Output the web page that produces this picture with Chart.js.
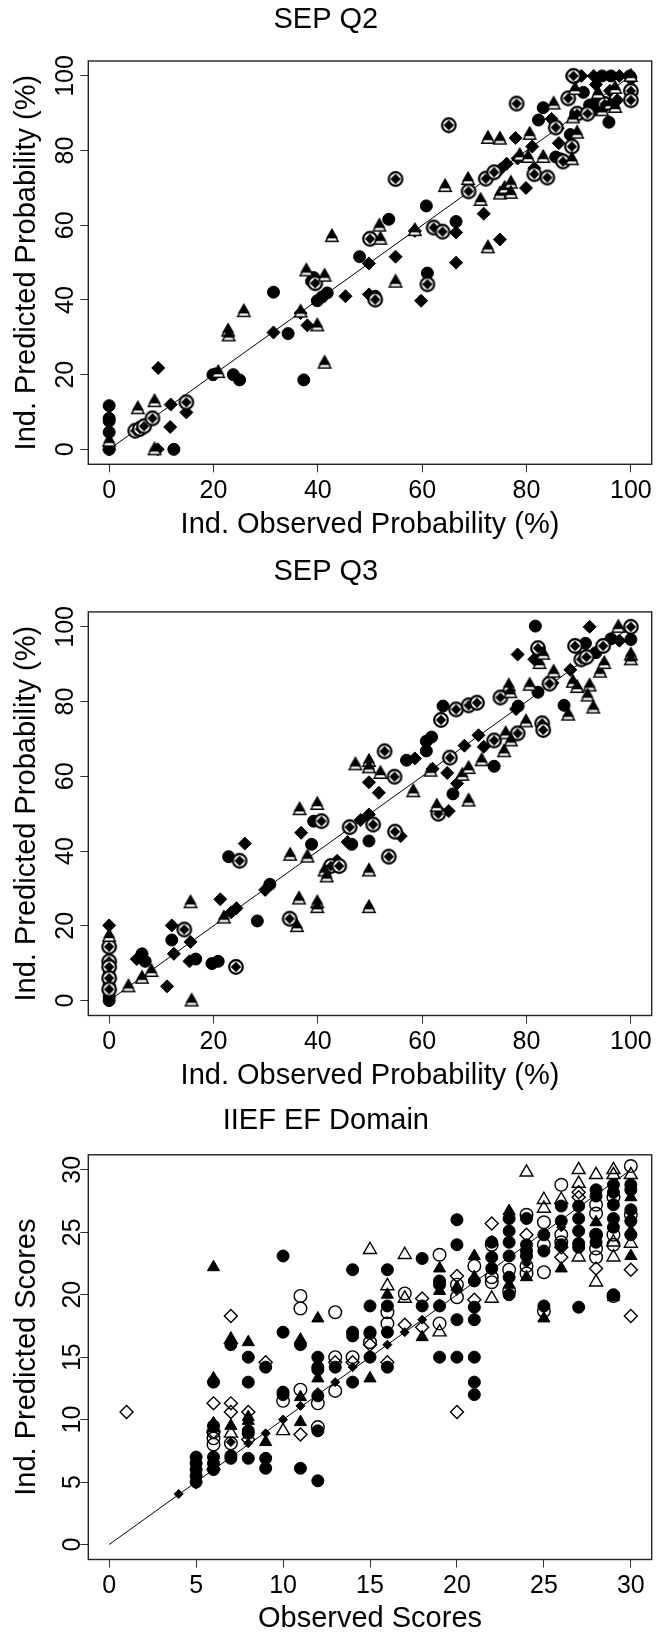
<!DOCTYPE html>
<html>
<head>
<meta charset="utf-8">
<script src="https://cdn.jsdelivr.net/npm/chart.js@4.4.0/dist/chart.umd.min.js"></script>
<style>
  body { margin: 0; background: #fff; width: 666px; height: 1634px; position: relative; overflow: hidden; }
  canvas { position: absolute; left: 0; }
</style>
</head>
<body>
<canvas id="q2Chart" width="666" height="545" style="top:0px"></canvas>
<canvas id="q3Chart" width="666" height="545" style="top:550.5px"></canvas>
<canvas id="iiefChart" width="666" height="545" style="top:1093.5px"></canvas>
<script>
// ---- data ----
const probTicks = [0, 20, 40, 60, 80, 100];
const scoreTicks = [0, 5, 10, 15, 20, 25, 30];

// SEP Q2: [observed, predicted]
const q2Filled = [[0,11.7],[0,8.3],[0,7.6],[0,4.6],[0,0],[12.4,0],[19.9,20],[23.8,20],[25,18.6],[31.5,42.1],[34.3,31],
  [37.3,18.6],[39.2,46],[38.8,45],[39.9,39.8],[40.8,40.8],[41.8,41.9],[48,51.6],[51,41],[53.6,61.6],[60.8,65.2],[61,47.2],
  [66.5,61],[82.3,88.2],[83.2,91.5],[85.6,78.3],[86.5,77.8],[88.4,84.3],[88.7,100],[89.2,99.5],[90.9,95.6],[92.1,92.2],
  [94.5,100],[96.2,100],[99.8,100],[94.1,93.5],[95.8,87.6],[100,99.5],[93.5,91]];
const q2Diamond = [[0,0],[9.3,0],[9.4,21.8],[11.8,12],[11.7,6],[14.8,9.9],[20.3,20.2],[31.5,31.3],[38,33.2],[45.3,41],
  [49.8,49.8],[49.8,41.5],[54.9,51.6],[59.8,39.8],[66.5,58.1],[66.5,50],[71.8,63.1],[74.9,56.2],[76.2,76.5],[77.9,83.4],
  [78.3,77.9],[79.9,70],[81.1,81.1],[81.5,75.3],[84.8,88.5],[86.2,82],[90.5,100],[92.9,100],[97.8,100],[97.4,93.5],
  [93.3,97.7],[36.7,36.5],[58.6,58.5],[75,75],[86,86],[93,93],[96,96]];
const q2Ringed = [[5,5],[5.9,5.5],[6.7,6.2],[8.3,8.3],[14.8,12.6],[39.5,44.5],[50,56.4],[51,40.1],[54.9,72.4],[61,44.2],
  [62.2,59.4],[63.9,58.3],[65.1,86.8],[68.9,69.1],[72.2,72.5],[73.8,74.2],[78.1,92.6],[81.5,73.7],[84,72.8],[85.6,86.2],
  [87,77.1],[88,94],[88.7,81.1],[89.7,89.9],[91.7,89.9],[95,92.5],[100,96],[100,93.5],[89,100]];
const q2Triangle = [[0,2.3],[5.5,11],[8.7,12.9],[8.7,0],[20.9,20.7],[22.8,31.8],[22.9,30.5],[25.8,37],[36.7,36.9],[37.8,47.9],
  [39.9,33.2],[41.3,46.5],[41.3,23.2],[42.7,57.1],[51.8,59.9],[52,56.4],[54.9,44.9],[58.6,58.7],[64.4,70.5],[68.8,72.4],
  [71.2,66.8],[72.6,83.4],[72.6,54.1],[74.9,83.2],[74.9,68.5],[75.8,70],[77,71.4],[77,68.7],[78.7,78.8],[80.3,78.3],
  [80.6,84.5],[83.2,78.3],[85.2,92.6],[88.7,77.7],[88.9,88.9],[89.7,84.8],[89.3,96.5],[93.7,95.4],[94.5,90.8],[96,92.5],
  [97,91.7],[97,96.8],[100,100]];

// SEP Q3
const q3Filled = [[0,10],[0,8.5],[0,7],[0,5.5],[0,4],[0,2.5],[0,1],[0,0],[6.3,12.5],[6.9,10.5],[12,16.2],[16.6,11.1],
  [19.7,9.9],[20.9,10.5],[22.9,38.5],[28.4,21.3],[30.8,31.1],[38.8,41.8],[39.2,48],[46.5,41.8],[49.8,42.7],[57,64.3],
  [60.8,69.4],[61.8,70.5],[64,78.8],[65.9,55.3],[73.8,62.7],[78.4,78.8],[81.7,100.2],[82.2,82.5],[87.2,79],[91.3,95.6],
  [93.3,93.1],[96.2,96.8],[100,96.6],[60.8,66.8]];
const q3Diamond = [[0,20.1],[5.3,11.1],[11.1,3.8],[12,20.1],[12.4,12.5],[15.6,15.7],[15.4,10.5],[21.3,27.1],[23.4,23.6],
  [24.4,24.7],[26,42],[29.9,29.6],[36.8,44.9],[43.7,37.4],[45.7,42.4],[48.2,48.3],[49.8,58.4],[49.8,49.8],[51.7,55.6],
  [55.9,44],[58.6,64.8],[64.8,60.9],[65.1,50.7],[66.7,58.1],[68.1,68.2],[70.8,71],[71.8,67.9],[78.3,92.6],[81.5,91.3],
  [88.4,88.5],[92.1,100],[97.8,96.3],[62,62],[78,78],[85,85]];
const q3Ringed = [[0,14.4],[0,10.5],[0,9],[0,6],[0,3],[14.4,19],[24.3,9],[25,37.4],[34.6,21.9],[40.7,48],[42.5,36],[44.1,36],
  [46.1,46.4],[50.6,47.1],[52.8,66.7],[53.6,38.5],[54.7,59.9],[54.8,45.2],[63.1,50],[63.6,75.1],[65.3,65],[66.5,77.9],
  [68.9,79],[70.5,79.7],[73.8,69.6],[75,81.1],[78.3,71.5],[82.2,94.3],[83,74.2],[83.2,72.4],[84.4,84.8],[89.3,94.9],
  [90.5,91.3],[91.5,91.9],[94.7,94.9],[100,100]];
const q3Triangle = [[0,17.3],[3.7,3.8],[6.3,6.1],[8.1,7.9],[15.6,26.3],[15.8,0],[22,22.2],[34.7,39],[36,19.9],[36.4,27.3],
  [36.5,51.2],[38,38.5],[39.9,52.6],[39.9,26.3],[39.9,25],[41.3,34.8],[41.7,33.2],[47.2,63.2],[49.8,64.1],[49.8,62.4],
  [49.8,34.8],[49.8,25],[52,60.9],[58.3,56],[61.6,61.5],[62.8,52.1],[67.7,60.4],[68.9,62.2],[68.9,53.5],[71.4,64.3],
  [75.7,66.7],[76,71.5],[76.6,84.3],[76.9,82.5],[77,69.6],[79.9,74.7],[80.6,84.5],[82.5,90.3],[83.2,92.8],[85.2,88],
  [88,76.5],[88.9,85.3],[89.7,83.9],[92.1,84.3],[91.7,81.6],[92.8,78.4],[94.1,88],[94.9,90.3],[97.6,100],[100,92.6],[100,91.3]];

// IIEF EF Domain: rows of [observed score, predicted scores...]
const iiefFilledCircle = [[5,7,6.5,6,5.5,5],[6,13,9.5,7,6.5,6],[7,16,7.1,6.9],[8,15,13,9.1,8.9,6.9],[9,14.2,6.9,6.1],
  [10,23.1,17,12.2,12],[11,16,6.1],[12,15,14.2,14,11.9,9.1,5.1],[13,14.2],[14,22,17,16.7,13],[15,19.1,17,16.9,15],
  [16,22,19.1,17,14.2],[18,22.9,19.1],[19,21.1,20.8,19.1,15],[20,26,24,18,15],[21,21.1,19,18,15,13,12],[22,24.2,23,22.1],
  [23,26.1,25.1,24.2,23.1,21.4,20],[24,26.1,24,23.5,23.1],[25,24.8,23.5,19.1],[26,27.1,25.9,24],
  [27,27.1,26.1,25.1,24.1,23.8,19],[28,28.4,27.9,24.8,24.2],[29,28.8,28.2,27.2,26.1,25.4,20],[30,28.8,28.4,26.8,25.9,24.8]];
const iiefFilledTriangle = [[6,22.2,13.3,9.7,9.3],[7,16.4,9.5],[8,16.2,10.2,9.9],[9,8.2],[11,16.4,11.8,9.8],[12,18.1,13.3],
  [15,13.3],[16,20],[18,16.6],[19,22.1,20.3],[20,20.6],[21,23.1,21.4],[22,24.2],[23,26.7,20.8],[24,21.4],[25,18.1],
  [26,22.1],[28,25.8],[29,19.8],[30,27.8,25.1,23.1]];
const iiefFilledDiamond = [[4,4.05],[5,4.8],[6,6],[7,7,8.2],[8,8.1],[9,8.9],[10,10],[11,11.1],[12,12.2],[13,13],[14,14.2],
  [15,15],[16,16],[17,17],[18,18],[19,19.3],[20,20.3],[21,21.3],[22,22.3],[23,23],[24,22.5],[25,24.8],[26,25.4],
  [27,27.2],[28,28.2],[29,28.8]];
const iiefOpenCircle = [[6,9,8.5,8],[7,8.1],[10,11.5],[11,19.9,18.9,12.4],[12,11.3,9.4],[13,18.6,15,12.3],[14,15],[15,16.2],
  [16,18.6,17.7],[17,20.1],[19,23.2,17.7],[20,20.8,19.8],[21,22.3],[22,24,21.4,21],[23,22,20.3],[24,26.4,22.3,21.7],
  [25,25.8,24,21.8,18.7],[26,28.8,24.8,24.2],[28,27.2,26.5,24.8,23.7,23],[29,27.8,24.8,24,19.9],[30,30.3,26.4]];
const iiefOpenTriangle = [[6,6.3],[7,8.9,16.4],[10,9.1],[15,23.6],[16,20.7],[17,23.2,19.7],[19,17],[22,19.7],[24,29.8],
  [25,27.6,26.9],[26,27.6],[27,30,28.9,23],[28,29.6,21],[29,30,29.6,24.2,23],[30,29.6,24.1]];
const iiefOpenDiamond = [[1,10.6],[6,11.3,9],[7,18.3,11.3,10.6],[8,10.6,8.4],[9,14.6],[11,8.8],[13,14.6],[14,14.6],[15,16],
  [16,14.6],[17,17.6],[18,19.7,17.4],[20,21.5,10.6],[21,19.6],[22,25.7],[24,24.8],[26,23.8,23],[27,28.2,27.8],[28,22.1],
  [30,22,18.3]];

// ---- helpers ----
const FONT = "'Liberation Sans', Arial, Helvetica, sans-serif";
const pts = arr => arr.map(([x, y]) => ({ x: x, y: y }));
const rows = arr => arr.flatMap(([x, ...ys]) => ys.map(y => ({ x: x, y: y })));

function makeGlyph(w, h, draw) {
    const c = document.createElement('canvas');
    c.width = w;
    c.height = h;
    draw(c.getContext('2d'));
    return c;
}

function triPath(g, cx, cy, r) {
    g.beginPath();
    g.moveTo(cx, cy - r);
    g.lineTo(cx + r * 0.866, cy + r / 2);
    g.lineTo(cx - r * 0.866, cy + r / 2);
    g.closePath();
}

// open circle with a filled diamond inside
const ringGlyph = makeGlyph(18, 18, g => {
    g.beginPath();
    g.arc(9, 9, 6.8, 0, Math.PI * 2);
    g.fillStyle = '#fff';
    g.fill();
    g.lineWidth = 2.2;
    g.strokeStyle = '#000';
    g.stroke();
    g.beginPath();
    g.moveTo(9, 3.8); g.lineTo(14.2, 9); g.lineTo(9, 14.2); g.lineTo(3.8, 9);
    g.closePath();
    g.fillStyle = '#000';
    g.fill();
});

// filled triangle sitting on an open triangle
const triGlyph = makeGlyph(20, 20, g => {
    triPath(g, 10, 11.6, 7.2);
    g.fillStyle = '#fff';
    g.fill();
    g.lineWidth = 1.4;
    g.strokeStyle = '#000';
    g.stroke();
    triPath(g, 10, 8.8, 7);
    g.fillStyle = '#000';
    g.fill();
});

const boxPlugin = {
    id: 'box',
    afterDatasetsDraw(chart) {
        const a = chart.chartArea;
        const c = chart.ctx;
        c.save();
        c.strokeStyle = '#222';
        c.lineWidth = 1.4;
        c.strokeRect(a.left, a.top, a.right - a.left, a.bottom - a.top);
        c.restore();
    }
};

function axisOptions(min, max, ticks, title, fitSize, isX) {
    const opts = {
        type: 'linear',
        min: min,
        max: max,
        afterBuildTicks: s => { s.ticks = ticks.map(v => ({ value: v })); },
        ticks: {
            font: { family: FONT, size: 25 },
            color: '#000',
            autoSkip: false
        },
        grid: { display: true, drawOnChartArea: false, drawTicks: true, tickLength: 8, color: '#333', lineWidth: 1 },
        border: { display: false },
        title: { display: true, text: title, font: { family: FONT, size: 29 }, color: '#000' }
    };
    if (isX) {
        opts.ticks.padding = 4;
        opts.ticks.maxRotation = 0;
        opts.ticks.minRotation = 0;
        opts.title.padding = { top: 0, bottom: 2.6 };
        opts.afterFit = s => { s.height = fitSize; };
    } else {
        opts.ticks.minRotation = 90;
        opts.ticks.maxRotation = 90;
        opts.ticks.crossAlign = 'center';
        opts.ticks.padding = -6.5;
        opts.title.padding = { top: 10, bottom: 0 };
        opts.afterFit = s => { s.width = fitSize; };
    }
    return opts;
}

function buildChart(id, cfg) {
    const ctx = document.getElementById(id).getContext('2d');
    return new Chart(ctx, {
        type: 'scatter',
        data: { datasets: cfg.datasets },
        options: {
            responsive: false,
            animation: false,
            events: [],
            layout: { padding: { left: 0, right: 14.3, top: 0, bottom: 0 } },
            plugins: {
                legend: { display: false },
                tooltip: { enabled: false },
                title: {
                    display: true,
                    text: cfg.title,
                    color: '#000',
                    font: { family: FONT, size: 29, weight: 'normal' },
                    padding: cfg.titlePadding
                }
            },
            scales: {
                x: axisOptions(cfg.xMin, cfg.xMax, cfg.xTicks, cfg.xTitle, cfg.xHeight, true),
                y: axisOptions(cfg.yMin, cfg.yMax, cfg.yTicks, cfg.yTitle, 88.3, false)
            }
        },
        plugins: [boxPlugin]
    });
}

function diagonal(to) {
    return {
        type: 'line',
        data: [{ x: 0, y: 0 }, { x: to, y: to }],
        showLine: true,
        borderColor: '#000',
        borderWidth: 1,
        pointRadius: 0
    };
}

function probDatasets(tri, ringed, diamond, filled) {
    return [
        { data: pts(tri), pointStyle: triGlyph, pointRadius: 10 },
        { data: pts(ringed), pointStyle: ringGlyph, pointRadius: 9 },
        { data: pts(diamond), pointStyle: 'rectRot', pointRadius: 6.5, backgroundColor: '#000', borderColor: '#000', borderWidth: 1 },
        { data: pts(filled), pointStyle: 'circle', pointRadius: 6, backgroundColor: '#000', borderColor: '#000', borderWidth: 1 },
        diagonal(100)
    ];
}

buildChart('q2Chart', {
    title: 'SEP Q2',
    titlePadding: { top: 2.6, bottom: 23.6 },
    datasets: probDatasets(q2Triangle, q2Ringed, q2Diamond, q2Filled),
    xMin: -4, xMax: 104, xTicks: probTicks, xTitle: 'Ind. Observed Probability (%)', xHeight: 80.7,
    yMin: -4, yMax: 104, yTicks: probTicks, yTitle: 'Ind. Predicted Probability (%)'
});

buildChart('q3Chart', {
    title: 'SEP Q3',
    titlePadding: { top: 3.6, bottom: 22.5 },
    datasets: probDatasets(q3Triangle, q3Ringed, q3Diamond, q3Filled),
    xMin: -4, xMax: 104, xTicks: probTicks, xTitle: 'Ind. Observed Probability (%)', xHeight: 80.5,
    yMin: -4, yMax: 104, yTicks: probTicks, yTitle: 'Ind. Predicted Probability (%)'
});

buildChart('iiefChart', {
    title: 'IIEF EF Domain',
    titlePadding: { top: 9.6, bottom: 16.4 },
    datasets: [
        { data: rows(iiefFilledDiamond), pointStyle: 'rectRot', pointRadius: 4.5, backgroundColor: '#000', borderColor: '#000', borderWidth: 1 },
        { data: rows(iiefFilledCircle), pointStyle: 'circle', pointRadius: 6, backgroundColor: '#000', borderColor: '#000', borderWidth: 1 },
        { data: rows(iiefFilledTriangle), pointStyle: 'triangle', pointRadius: 7, backgroundColor: '#000', borderColor: '#000', borderWidth: 1 },
        { data: rows(iiefOpenCircle), pointStyle: 'circle', pointRadius: 6.3, backgroundColor: 'rgba(0,0,0,0)', borderColor: '#000', borderWidth: 1.4 },
        { data: rows(iiefOpenTriangle), pointStyle: 'triangle', pointRadius: 7.5, backgroundColor: 'rgba(0,0,0,0)', borderColor: '#000', borderWidth: 1.4 },
        { data: rows(iiefOpenDiamond), pointStyle: 'rectRot', pointRadius: 6.5, backgroundColor: 'rgba(0,0,0,0)', borderColor: '#000', borderWidth: 1.4 },
        diagonal(30)
    ],
    xMin: -1.2, xMax: 31.2, xTicks: scoreTicks, xTitle: 'Observed Scores', xHeight: 79.5,
    yMin: -1.2, yMax: 31.2, yTicks: scoreTicks, yTitle: 'Ind. Predicted Scores'
});
</script>
</body>
</html>
